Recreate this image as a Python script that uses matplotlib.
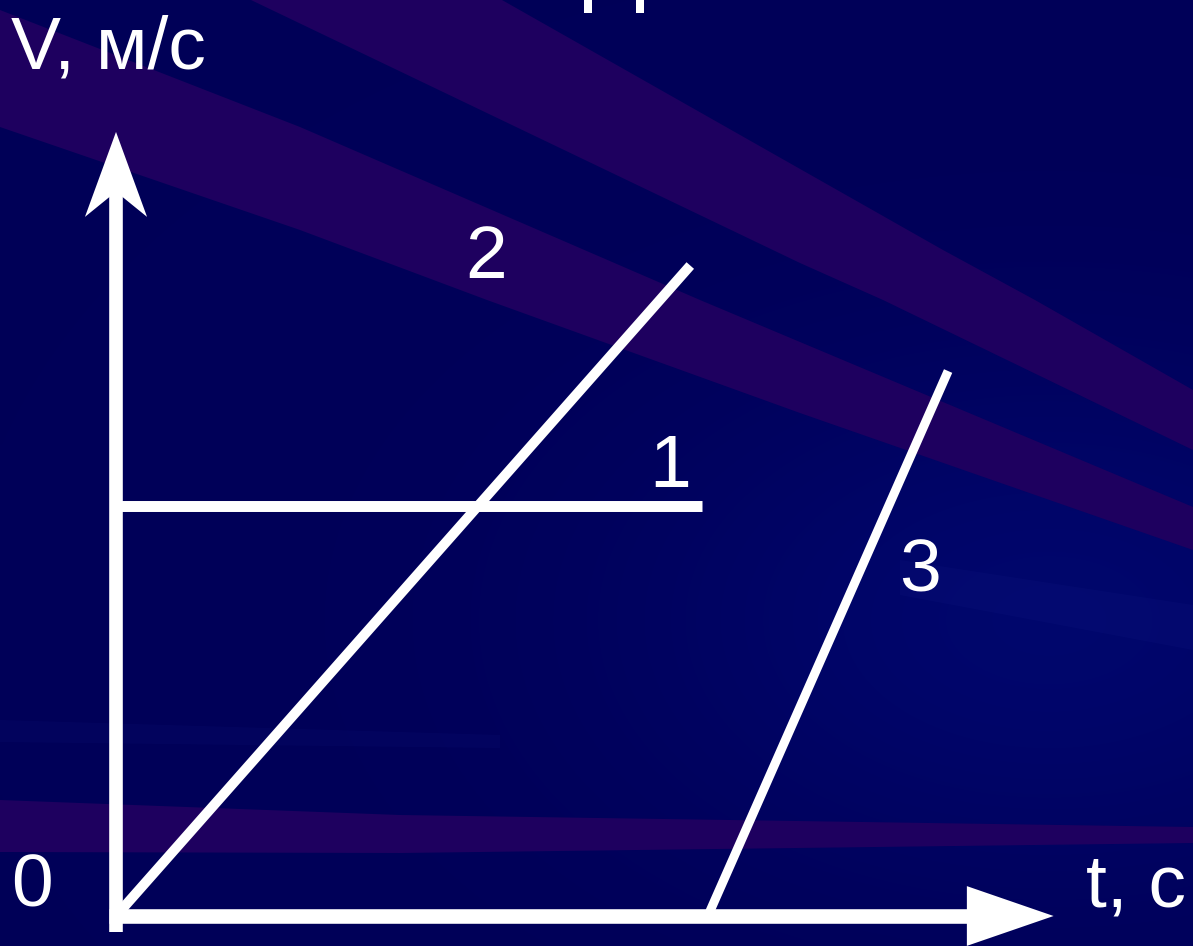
import numpy as np
import matplotlib
matplotlib.use('Agg')
import matplotlib.pyplot as plt
from matplotlib.patches import Polygon, Rectangle

# graph data (t in s, V in m/s)
t1 = [0.0, 10.0]
v1 = [7.0, 7.0]
t2 = [0.0, 9.8]
v2 = [0.0, 11.1]
t3 = [10.1, 14.2]
v3 = [0.0, 9.3]

labels = ['1', '2', '3']
label_pos = [(9.45, 7.32), (6.31, 10.89), (13.72, 5.53)]

t_axis_end = 16.0
v_axis_end = 13.38

NAVY = '#00005a'
PURPLE = '#1e005f'
WHITE = 'white'
W, H = 1193, 946
SCALE = 58.6  # px per unit
ORIGIN = (116, 916)

fig = plt.figure(figsize=(W / 100, H / 100), dpi=100, facecolor=NAVY)

# background decoration in pixel coords
bg = fig.add_axes([0, 0, 1, 1])
bg.set_xlim(0, W)
bg.set_ylim(H, 0)
bg.axis('off')

# soft lighter glow, centre right
yy, xx = np.mgrid[0:H:4, 0:W:4]
glow = np.exp(-(((xx - 1050) / 420.0) ** 2 + ((yy - 620) / 260.0) ** 2))
img = np.zeros(xx.shape + (3,))
img[..., 0] = 0.0
img[..., 1] = 0.0 + 0.025 * glow
img[..., 2] = 0.345 + 0.08 * glow
bg.imshow(img, extent=(0, W, H, 0), aspect='auto', interpolation='bilinear',
          zorder=0)

band_a = [(251, 0), (502, 0), (943, 250), (1035, 300), (1193, 390),
          (1193, 450), (883, 300), (800, 263)]
band_b = [(0, 10), (300, 127), (700, 300), (1193, 507),
          (1193, 550), (800, 413), (487, 300), (300, 230), (0, 127)]
band_c = [(0, 800), (400, 815), (1193, 827), (1193, 843), (400, 853), (0, 852)]
for pts in (band_a, band_b, band_c):
    bg.add_patch(Polygon(pts, closed=True, color=PURPLE, lw=0, zorder=1))
bg.add_patch(Polygon([(900, 560), (1193, 605), (1193, 650), (900, 595)],
                     closed=True, color='#1a2490', alpha=0.12, lw=0, zorder=1))
bg.add_patch(Polygon([(0, 720), (500, 735), (500, 748), (0, 742)],
                     closed=True, color='#1a2490', alpha=0.1, lw=0, zorder=1))
# bottom of the cut-off title
bg.add_patch(Rectangle((584, 0), 8, 13, color=WHITE, lw=0, zorder=2))
bg.add_patch(Rectangle((636, 0), 8, 13, color=WHITE, lw=0, zorder=2))

# chart axes in data units
ax = fig.add_axes([0, 0, 1, 1])
ax.set_xlim(-ORIGIN[0] / SCALE, (W - ORIGIN[0]) / SCALE)
ax.set_ylim(-(H - ORIGIN[1]) / SCALE, ORIGIN[1] / SCALE)
ax.axis('off')
ax.patch.set_alpha(0)

# axes with arrows
head_len_x, head_w_x = 1.48, 0.51
ax.plot([-0.12, t_axis_end - head_len_x], [0, 0], color=WHITE, lw=10.5,
        solid_capstyle='butt')
ax.add_patch(Polygon([(t_axis_end - head_len_x, head_w_x), (t_axis_end, 0),
                      (t_axis_end - head_len_x, -head_w_x)], closed=True,
                     color=WHITE, lw=0))
head_len_y, head_w_y, notch = 1.45, 0.53, 1.02
ax.plot([0, 0], [-0.27, v_axis_end - notch + 0.05], color=WHITE, lw=9.8,
        solid_capstyle='butt')
ax.add_patch(Polygon([(-head_w_y, v_axis_end - head_len_y), (0, v_axis_end),
                      (head_w_y, v_axis_end - head_len_y),
                      (0, v_axis_end - notch)], closed=True, color=WHITE, lw=0))

# graphs
ax.plot(t1, v1, color=WHITE, lw=7.9, solid_capstyle='butt')
ax.plot(t2, v2, color=WHITE, lw=7.2, solid_capstyle='butt')
ax.plot(t3, v3, color=WHITE, lw=6.5, solid_capstyle='butt')

font = dict(family='Liberation Sans', size=54, color=WHITE)
for lab, (x, y) in zip(labels, label_pos):
    ax.text(x, y, lab, ha='center', va='baseline', **font)
ax.text(-1.43, 0.17, '0', ha='center', va='baseline', **font)
ax.text(16.55, 0.17, 't, с', ha='left', va='baseline', **font)
ax.text(-1.8, 14.47, 'V, м/с', ha='left', va='baseline', **font)

fig.savefig('out.png', dpi=100, facecolor=NAVY)
